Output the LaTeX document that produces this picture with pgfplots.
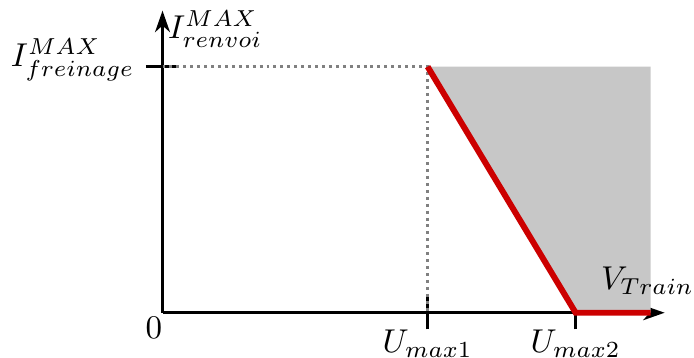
\documentclass[border=0pt]{standalone}
\usepackage{pgfplots}
\pgfplotsset{compat=1.18}
\usetikzlibrary{arrows.meta}
\definecolor{myred}{RGB}{204,0,0}
\definecolor{mygray}{RGB}{199,199,199}
\begin{document}
\begin{tikzpicture}
\begin{axis}[
 x=0.303pt, y=0.303pt,
 axis lines=middle,
 axis line style={line width=0.9pt, -{Stealth[length=6.5pt,width=4.5pt,inset=2pt]}},
 xmin=0, xmax=502, ymin=0, ymax=302,
 xtick={265,413}, xticklabels={$U_{max1}$,$U_{max2}$},
 xticklabel style={anchor=north, inner sep=0pt},
 ytick={246}, yticklabels={$I^{MAX}_{freinage}$},
 yticklabel style={anchor=base east},
 tick align=center, major tick length=10pt,
 tick style={black, line width=0.9pt},
 clip=false,
]
\addplot[fill=mygray, draw=none] coordinates {(265,246) (488,246) (488,0) (413,0)} -- cycle;
\addplot[gray, line width=0.9pt, dash pattern=on 0.9pt off 1.2pt] coordinates {(0,246) (265,246) (265,0)};
\addplot[myred, line width=1.8pt] coordinates {(265,246) (413,0) (488,0)};
\node[anchor=base west, inner sep=3.3pt] at (axis cs:-6,274) {$I^{MAX}_{renvoi}$};
\node[anchor=base east, inner sep=0] at (axis cs:532,23) {$V_{Train}$};
\node[anchor=center, inner sep=0] at (axis cs:-8.5,-15.5) {$0$};
\end{axis}
\end{tikzpicture}
\end{document}
